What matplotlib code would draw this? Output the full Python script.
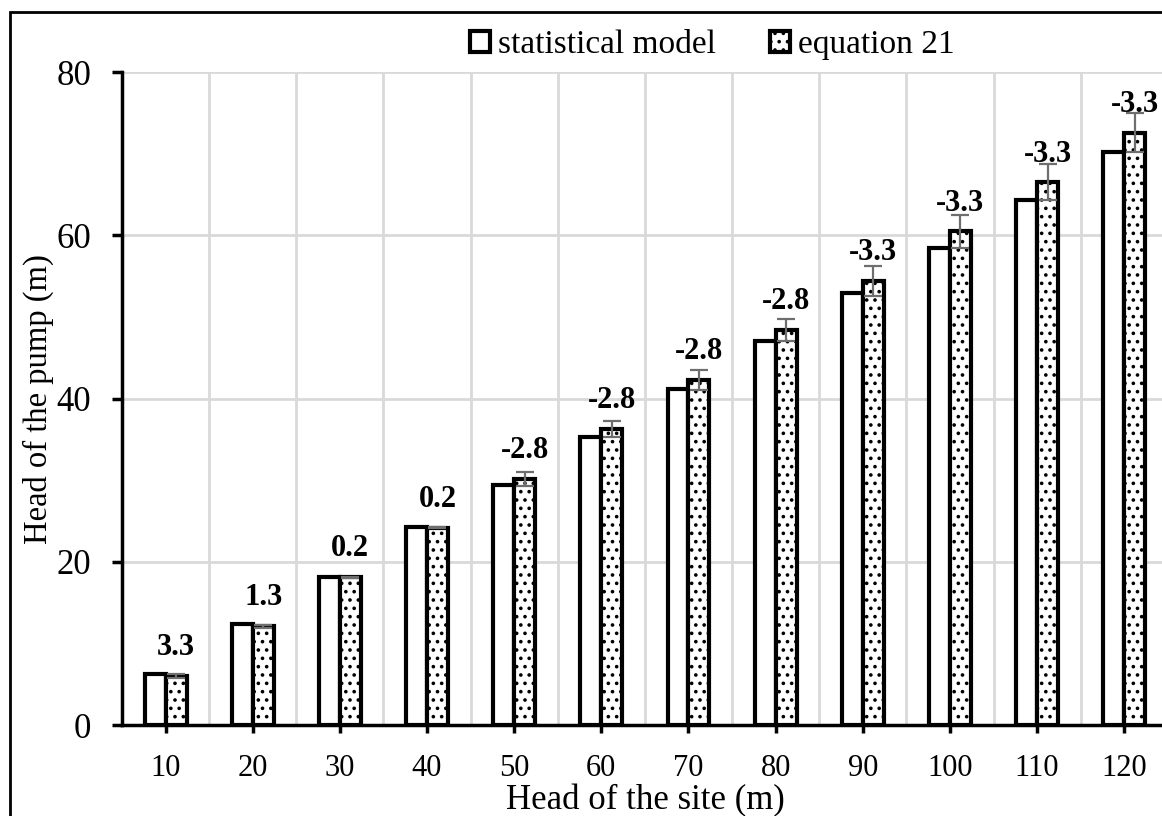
import matplotlib.pyplot as plt
import matplotlib.patches as mpatches
import numpy as np

# data
site_heads = ['10', '20', '30', '40', '50', '60', '70', '80', '90', '100', '110', '120']
stat_model = [6.2, 12.4, 18.2, 24.3, 29.4, 35.3, 41.2, 47.1, 53.0, 58.5, 64.3, 70.2]
equation_21 = [6.0, 12.1, 18.1, 24.2, 30.2, 36.3, 42.3, 48.4, 54.4, 60.5, 66.5, 72.6]
eq_error = [0.2, 0.16, 0.04, 0.05, 0.85, 1.0, 1.2, 1.35, 1.8, 2.0, 2.2, 2.4]
diff_labels = ['3.3', '1.3', '0.2', '0.2', '-2.8', '-2.8', '-2.8', '-2.8',
               '-3.3', '-3.3', '-3.3', '-3.3']

plt.rcParams['font.family'] = 'Liberation Serif'
plt.rcParams['hatch.linewidth'] = 1.4

fig = plt.figure(figsize=(11.62, 8.16), dpi=100)
ax = fig.add_axes([0.105, 0.1115, 0.900, 0.800])

x = np.arange(len(site_heads))
w = 0.24
ax.bar(x - w / 2, stat_model, w, color='white', edgecolor='black',
       linewidth=3, zorder=3, label='statistical model')
ax.bar(x + w / 2, equation_21, w, color='white', edgecolor='black',
       linewidth=3, hatch='..', zorder=3, label='equation 21')
ax.errorbar(x + w / 2, equation_21, yerr=eq_error, fmt='none', ecolor='#6e6e6e',
            elinewidth=1.6, capsize=6.5, capthick=1.6, zorder=4)

for xi, v, lab in zip(x, equation_21, diff_labels):
    ax.annotate(lab, (xi + w / 2, v), xytext=(0, 15), textcoords='offset points',
                ha='center', va='baseline', fontsize=22, fontweight='bold')

ax.set_xlim(-0.5, 11.5)
ax.set_ylim(0, 80)
ax.set_yticks([0, 20, 40, 60, 80])
ax.set_xticks(x)
ax.set_xticklabels(site_heads)
ax.set_xticks(np.arange(0.5, 11.5, 1), minor=True)
ax.tick_params(axis='x', which='minor', length=0)
ax.grid(True, which='major', axis='y', color='#d9d9d9', linewidth=2, zorder=0)
ax.grid(True, which='minor', axis='x', color='#d9d9d9', linewidth=2, zorder=0)
ax.set_axisbelow(True)

for s in ['top', 'right']:
    ax.spines[s].set_visible(False)
ax.spines['left'].set_linewidth(2.5)
ax.spines['bottom'].set_linewidth(2.5)
ax.tick_params(axis='y', labelsize=25, length=7, width=2.5, pad=15)
ax.tick_params(axis='x', which='major', labelsize=22, length=6, width=2.5, pad=15)

ax.set_xlabel('Head of the site (m)', fontsize=25, labelpad=1)
ax.set_ylabel('Head of the pump (m)', fontsize=23.5, labelpad=2)

h1 = mpatches.Rectangle((0, 0), 1, 1, facecolor='white', edgecolor='black', linewidth=3)
h2 = mpatches.Rectangle((0, 0), 1, 1, facecolor='white', edgecolor='black', linewidth=3, hatch='..')
fig.legend([h1, h2], ['statistical model', 'equation 21'], loc='center',
           bbox_to_anchor=(0.613, 0.945), ncol=2, frameon=False, fontsize=24,
           handlelength=0.6, handleheight=0.6, handletextpad=0.25, columnspacing=1.6)

# outer frame (only left and top edges fall inside the image)
fig.patches.append(mpatches.Rectangle((10 / 1162, -0.1), 1.2, 1.1 - 12 / 816,
                                      transform=fig.transFigure, fill=False,
                                      edgecolor='black', linewidth=2))

fig.savefig('out.png', dpi=100)
